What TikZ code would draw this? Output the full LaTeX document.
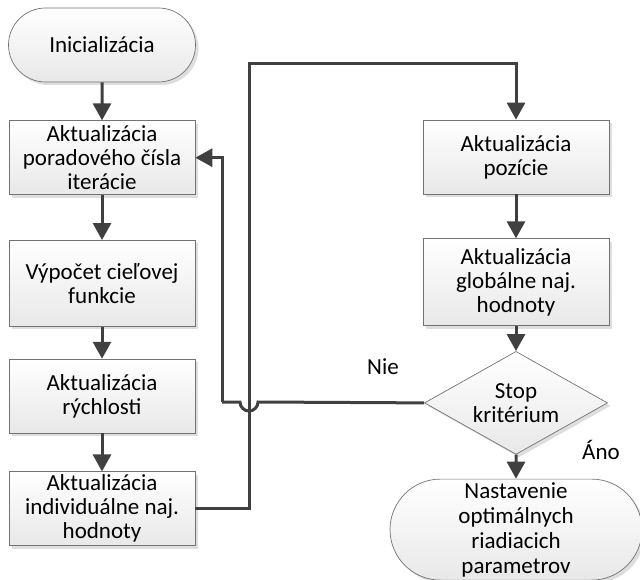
\documentclass[tikz,border=0pt]{standalone}
\usepackage{fontspec}
\setmainfont{Carlito}
\usepackage{tikz}
\usetikzlibrary{positioning,shapes.geometric,shapes.misc,shadows,arrows.meta}
\tikzset{
  node distance=2cm, auto,
  box/.style={rectangle, draw=black!55, line width=0.7pt,
    top color=white, bottom color=black!9,
    drop shadow={shadow xshift=3pt, shadow yshift=-3pt, fill=black!13, opacity=1},
    minimum width=186pt, minimum height=74pt, inner sep=0pt,
    align=center, font=\fontsize{23}{24}\selectfont},
  term/.style={box, rounded rectangle},
  decide/.style={diamond, draw=black!55, line width=0.7pt,
    top color=white, bottom color=black!9,
    drop shadow={shadow xshift=3pt, shadow yshift=-3pt, fill=black!13, opacity=1},
    minimum width=183pt, minimum height=103pt, inner sep=0pt, aspect=1.8,
    align=center, font=\fontsize{23}{24}\selectfont},
  flow/.style={draw=black!75, line width=3pt, -{Triangle[length=17pt,width=18pt]}},
  line/.style={draw=black!75, line width=3pt},
  lbl/.style={font=\fontsize{23}{24}\selectfont}
}

\begin{document}
\begin{tikzpicture}[x=1pt, y=-1pt]
      \useasboundingbox (0,0) rectangle (640,580);

      \node[term, minimum width=187pt] (init) at (102,45) {Inicializácia};
      \node[box] (iter)  [below=38pt of init] {Aktualizácia\\poradového čísla\\iterácie};
      \node[box, minimum height=86pt] (ciel) [below=45pt of iter] {Výpočet cieľovej\\funkcie};
      \node[box] (rych)  [below=32pt of ciel] {Aktualizácia\\rýchlosti};
      \node[box] (indiv) [below=38pt of rych] {Aktualizácia\\individuálne naj.\\hodnoty};

      \node[box] (poz)   at (516,157) {Aktualizácia\\pozície};
      \node[box, minimum height=87pt] (glob) [below=44pt of poz] {Aktualizácia\\globálne naj.\\hodnoty};
      \node[decide] (stop) [below=25pt of glob] {Stop\\kritérium};
      \node[term, minimum width=252pt, minimum height=101pt,
            font=\fontsize{23}{25}\selectfont] (koniec) [below=24pt of stop]
            {Nastavenie\\optimálnych\\riadiacich\\parametrov};

      \node[lbl] (nie) at (383,367) {Nie};
      \node[lbl] (ano) at (601,450) {Áno};

      \coordinate (up)   at (249,64);
      \coordinate (hop)  at (249,402);
      \coordinate (back) at (222,402);

      \draw[flow] (init) -- (iter);
      \draw[flow] (iter) -- (ciel);
      \draw[flow] (ciel) -- (rych);
      \draw[flow] (rych) -- (indiv);
      \draw[flow] (indiv.east) -| (up) -| (poz.north);
      \draw[flow] (poz) -- (glob);
      \draw[flow] (glob) -- (stop);
      \draw[flow] (stop) -- (koniec);
      % navrat s preskokom cez ciaru
      \draw[line] (stop.west) -- ([xshift=9pt]hop)
        arc[start angle=0, end angle=-180, radius=9pt] -- (back);
      \draw[flow] (back) |- (iter.east);
    \end{tikzpicture}
\end{document}
